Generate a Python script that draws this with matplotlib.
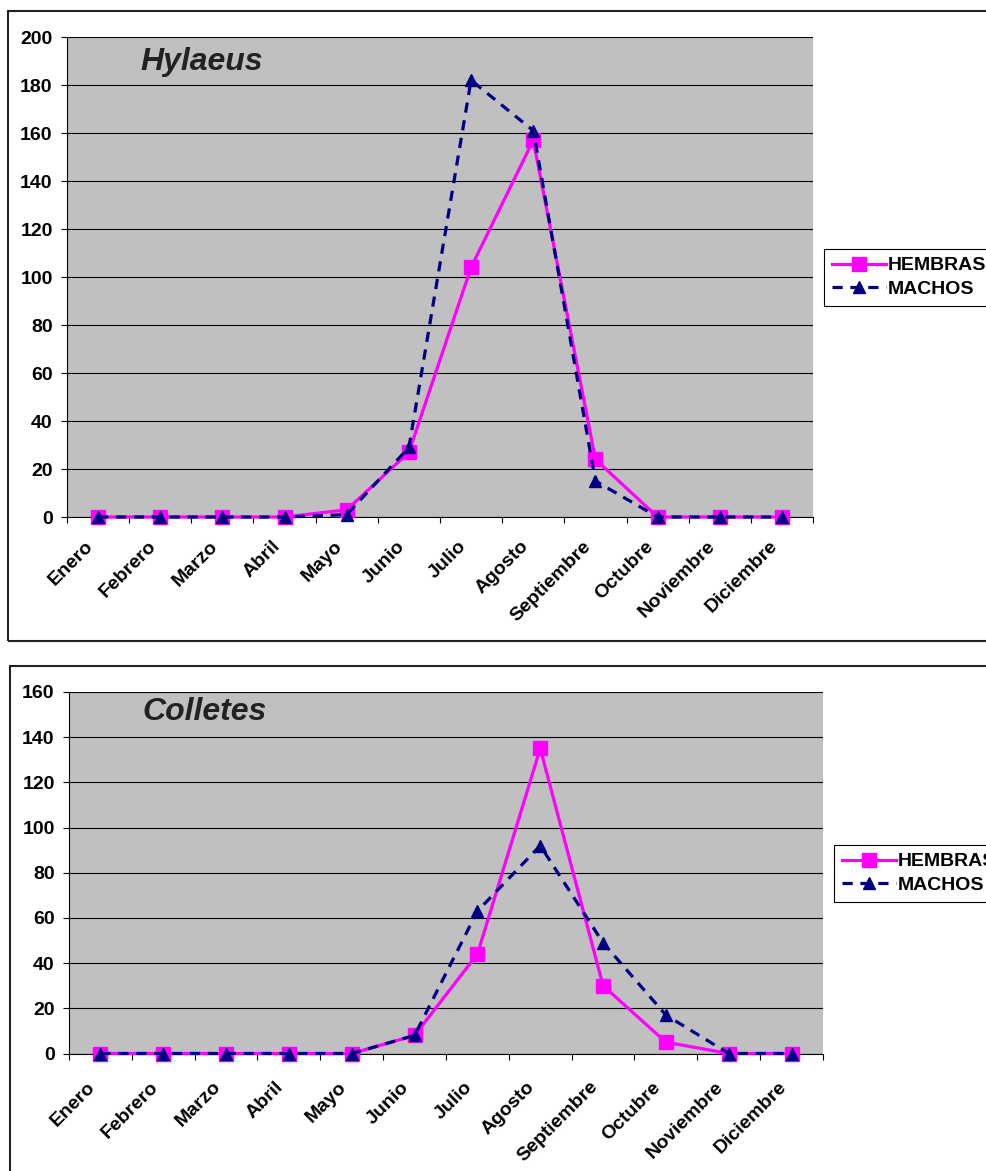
import matplotlib
matplotlib.use('Agg')
import matplotlib.pyplot as plt
import matplotlib.transforms as mtransforms
from matplotlib.patches import Rectangle
import numpy as np

plt.rcParams['font.family'] = ['Liberation Sans', 'DejaVu Sans']
plt.rcParams['font.weight'] = 'bold'

#datos
meses = ['Enero', 'Febrero', 'Marzo', 'Abril', 'Mayo', 'Junio', 'Julio',
         'Agosto', 'Septiembre', 'Octubre', 'Noviembre', 'Diciembre']
hylaeus_hembras = [0, 0, 0, 0, 3, 27, 104, 157, 24, 0, 0, 0]
hylaeus_machos = [0, 0, 0, 0, 1, 29, 182, 161, 15, 0, 0, 0]
colletes_hembras = [0, 0, 0, 0, 0, 8, 44, 135, 30, 5, 0, 0]
colletes_machos = [0, 0, 0, 0, 0, 8, 63, 92, 49, 17, 0, 0]

W, H = 987, 1171
fig = plt.figure(figsize=(W / 100, H / 100), dpi=100)

def fx(px):
    return px / W

def fy(py):
    return 1 - py / H

#marcos de los paneles
fig.patches.append(Rectangle((fx(8.5), fy(641)), fx(1000), fy(10.5) - fy(641),
                             transform=fig.transFigure, fill=False,
                             edgecolor='#222222', linewidth=1.5, zorder=0))
fig.patches.append(Rectangle((fx(10.5), fy(1200)), fx(1000), fy(666) - fy(1200),
                             transform=fig.transFigure, fill=False,
                             edgecolor='#222222', linewidth=1.5, zorder=0))


def panel(box, hembras, machos, ymax, titulo, title_xy, leg_xy, lab_off):
    left, top, right, bottom = box
    ax = fig.add_axes([fx(left), fy(bottom), fx(right - left), fy(top) - fy(bottom)])
    ax.set_facecolor('#C0C0C0')
    x = np.arange(len(meses))
    ax.plot(x, hembras, color='#FF00FF', lw=2.3, marker='s', ms=10.5,
            mfc='#FF00FF', mec='#FF00FF', label='HEMBRAS', zorder=3, clip_on=False)
    ax.plot(x, machos, color='#000080', lw=2.3, ls=(0, (3.2, 2.4)), marker='^', ms=9,
            mfc='#000080', mec='#000080', label='MACHOS', zorder=4, clip_on=False)
    ax.set_xlim(-0.5, 11.5)
    ax.set_ylim(0, ymax)
    ax.set_yticks(np.arange(0, ymax + 1, 20))
    ax.yaxis.grid(True, color='black', lw=0.8)
    ax.set_axisbelow(True)
    for s in ['top', 'right']:
        ax.spines[s].set_visible(False)
    ax.spines['left'].set_linewidth(0.8)
    ax.spines['bottom'].set_linewidth(0.8)
    ax.tick_params(axis='y', direction='out', length=4.3, width=0.8, pad=6,
                   labelsize=14)
    ax.set_xticks(np.arange(-0.5, 12, 1))
    ax.set_xticklabels([])
    ax.tick_params(axis='x', which='major', direction='out', length=4.3, width=0.8)
    ax.set_xticks(x, minor=True)
    ax.set_xticklabels(meses, minor=True, rotation=45, ha='right',
                       rotation_mode='anchor', fontsize=14, fontweight='bold')
    ax.tick_params(axis='x', which='minor', length=0, pad=lab_off[1])
    off = mtransforms.ScaledTranslation(lab_off[0] / 100, 0, fig.dpi_scale_trans)
    for lab in ax.get_xticklabels(minor=True):
        lab.set_transform(lab.get_transform() + off)
    for lab in ax.get_yticklabels():
        lab.set_fontweight('bold')
    ax.text(title_xy[0], title_xy[1], titulo, transform=ax.transAxes,
            fontsize=23, fontweight='bold', fontstyle='italic', color='#222222',
            va='baseline', ha='left')
    leg = ax.legend(loc='upper left', bbox_to_anchor=(fx(leg_xy[0]), fy(leg_xy[1])),
                    bbox_transform=fig.transFigure, frameon=True, fancybox=False,
                    edgecolor='black', framealpha=1, fontsize=14,
                    handlelength=2.8, handletextpad=0.1, borderpad=0.4,
                    labelspacing=0.3, borderaxespad=0)
    leg.get_frame().set_linewidth(0.8)
    for t in leg.get_texts():
        t.set_fontweight('bold')
    return ax


panel((67, 37, 813, 517), hylaeus_hembras, hylaeus_machos, 200, 'Hylaeus',
      (0.098, 0.931), (824, 249), (-13, 15))
panel((69, 692, 823, 1053.5), colletes_hembras, colletes_machos, 160, 'Colletes',
      (0.0977, 0.9225), (834, 845), (-14, 18))

fig.savefig('out.png', dpi=100)
